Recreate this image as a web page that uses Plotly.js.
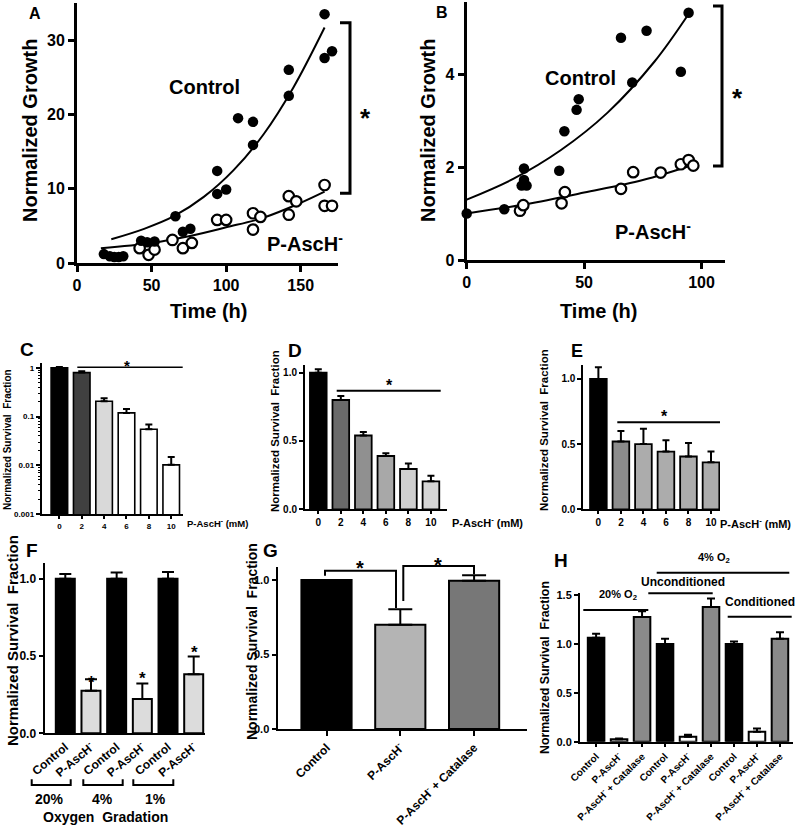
<!DOCTYPE html>
<html><head><meta charset="utf-8">
<script src="https://cdn.plot.ly/plotly-3.0.1.min.js"></script>
<style>html,body{margin:0;padding:0;background:#fff}#chart{width:800px;height:828px}</style>
</head><body><div id="chart"></div>
<script>
// ---------- Panel A ----------
const aCtrlX = [18,22,25,28,31,43,47,52,66,71,76,94,94,100,108,118,118,142,142,166,166,171];
const aCtrlY = [1.2,0.9,0.8,0.8,0.9,3.0,2.8,2.9,6.3,4.2,4.6,12.4,9.3,9.9,19.5,19.0,15.9,26.0,22.5,33.5,27.6,28.5];
const aAscX = [42,48,52,64,71,77,94,100,118,118,123,142,142,147,166,166,171];
const aAscY = [2.0,1.1,1.8,3.1,2.0,2.7,5.8,5.8,6.7,4.5,6.2,9.0,6.5,8.3,10.5,7.7,7.7];
const aCtrlFitX = [23,45,65,85,105,125,145,166];
const aCtrlFitY = [3.2,4.6,6.3,8.9,12.5,17.3,23.6,31.7];
const aAscFitX = [16,50,75,100,125,150,166];
const aAscFitY = [2.0,2.7,3.6,4.8,6.1,8.1,9.6];
// ---------- Panel B ----------
const bCtrlX = [0,16,23.4,24.4,24.4,25.5,39.4,41.6,46.8,47.7,65.7,70.5,76.6,91.2,94.5];
const bCtrlY = [1.0,1.09,1.6,1.72,1.97,1.6,1.92,2.77,3.23,3.46,4.78,3.82,4.93,4.05,5.32];
const bAscX = [22.7,24.1,40.4,41.8,65.7,70.9,82.6,91.2,94.5,96.5];
const bAscY = [1.06,1.18,1.22,1.46,1.53,1.89,1.88,2.06,2.15,2.03];
const bCtrlFitX = [0,20,40,60,80,95];
const bCtrlFitY = [1.30,1.75,2.36,3.17,4.27,5.33];
const bAscFitX = [0,25,50,75,96.5];
const bAscFitY = [1.0,1.2,1.45,1.72,2.05];
// ---------- Panel C ----------
const cLabels = ['0','2','4','6','8','10'];
const cVals = [1.0,0.80,0.206,0.119,0.055,0.0102];
const cErr = [0.04,0.05,0.031,0.024,0.014,0.0046];
// ---------- Panel D ----------
const dLabels = ['0','2','4','6','8','10'];
const dVals = [1.0,0.80,0.54,0.39,0.295,0.205];
const dErr = [0.025,0.03,0.025,0.02,0.04,0.04];
// ---------- Panel E ----------
const eLabels = ['0','2','4','6','8','10'];
const eVals = [1.0,0.52,0.50,0.443,0.405,0.36];
const eErr = [0.09,0.08,0.117,0.087,0.103,0.083];
// ---------- Panel F ----------
const fLabels = ['Control','P-AscH<sup>-</sup>','Control','P-AscH<sup>-</sup>','Control','P-AscH<sup>-</sup>'];
const fVals = [1.0,0.275,1.0,0.222,1.0,0.382];
const fErr = [0.03,0.075,0.04,0.1,0.043,0.115];
const fGroups = ['20%','4%','1%'];
// ---------- Panel G ----------
const gLabels = ['Control','P-AscH<sup>-</sup>','P-AscH<sup>-</sup> + Catalase'];
const gVals = [1.0,0.70,0.995];
const gErr = [0,0.105,0.038];
// ---------- Panel H ----------
const hLabels = ['Control','P-AscH<sup>-</sup>','P-AscH<sup>-</sup> + Catalase','Control','P-AscH<sup>-</sup>','P-AscH<sup>-</sup> + Catalase','Control','P-AscH<sup>-</sup>','P-AscH<sup>-</sup> + Catalase'];
const hVals = [1.065,0.024,1.277,1.0,0.051,1.38,1.0,0.103,1.055];
const hErr = [0.041,0.01,0.059,0.055,0.021,0.086,0.027,0.031,0.065];

// ---------- styles ----------
const FONT = 'Liberation Sans, Arial, sans-serif';
const cCols = ['#000','#404040','#d9d9d9','#fff','#fff','#fff'];
const dCols = ['#000','#6a6a6a','#909090','#a8a8a8','#cfcfcf','#d6d6d6'];
const eCols = ['#000','#8c8c8c','#acacac','#acacac','#acacac','#acacac'];
const fCols = ['#000','#dcdcdc','#000','#dcdcdc','#000','#dcdcdc'];
const gCols = ['#000','#b4b4b4','#777777'];
const hCols = ['#000','#fff','#8a8a8a','#000','#fff','#8a8a8a','#000','#fff','#8a8a8a'];

const px = x => x / 800;
const py = y => 1 - y / 828;
const idx = arr => arr.map((_, i) => i);

function scat(x, y, xa, ya, filled) {
  return {type:'scatter', mode:'markers', x:x, y:y, xaxis:xa, yaxis:ya, cliponaxis:false,
    marker:{size:10.5, color: filled ? '#000' : '#fff', line:{color:'#000', width: filled ? 0 : 2.2}}};
}
function fit(x, y, xa, ya) {
  return {type:'scatter', mode:'lines', x:x, y:y, xaxis:xa, yaxis:ya, line:{color:'#000', width:2, shape:'spline'}};
}
function bars(labels, vals, err, cols, xa, ya, w, lw, cap) {
  return {type:'bar', x:idx(labels), y:vals, xaxis:xa, yaxis:ya, width:w,
    marker:{color:cols, line:{color:'#000', width:lw}},
    error_y:{type:'data', symmetric:false, array:err, arrayminus:err.map(()=>0), color:'#000', thickness:2, width:cap}};
}

const traces = [
  fit(aCtrlFitX, aCtrlFitY, 'x', 'y'), fit(aAscFitX, aAscFitY, 'x', 'y'),
  scat(aAscX, aAscY, 'x', 'y', false), scat(aCtrlX, aCtrlY, 'x', 'y', true),
  fit(bCtrlFitX, bCtrlFitY, 'x2', 'y2'), fit(bAscFitX, bAscFitY, 'x2', 'y2'),
  scat(bAscX, bAscY, 'x2', 'y2', false), scat(bCtrlX, bCtrlY, 'x2', 'y2', true),
  bars(cLabels, cVals, cErr, cCols, 'x3', 'y3', 0.74, 1.6, 3.5),
  bars(dLabels, dVals, dErr, dCols, 'x4', 'y4', 0.74, 1.8, 3.5),
  bars(eLabels, eVals, eErr, eCols, 'x5', 'y5', 0.74, 1.8, 3.5),
  bars(fLabels, fVals, fErr, fCols, 'x6', 'y6', 0.74, 2, 6),
  bars(gLabels, gVals, gErr, gCols, 'x7', 'y7', 0.68, 2, 12),
  bars(hLabels, hVals, hErr, hCols, 'x8', 'y8', 0.72, 2, 4)
];

function axis(domain, range, anchor, opts) {
  return Object.assign({domain:domain, range:range, anchor:anchor, showline:true, linecolor:'#000', linewidth:2,
    ticks:'outside', ticklen:4, tickwidth:2, tickcolor:'#000', showgrid:false, zeroline:false, fixedrange:true,
    tickfont:{family:FONT, size:10, color:'#000', weight:'bold'}}, opts || {});
}
const bigTick = {family:FONT, size:16, color:'#000', weight:'bold'};

const layout = {
  width:800, height:828, margin:{l:0,r:0,t:0,b:0}, showlegend:false,
  paper_bgcolor:'#fff', plot_bgcolor:'rgba(0,0,0,0)', bargap:0.26,
  font:{family:FONT, color:'#000'},
  xaxis: axis([px(77),px(338)],[0,175],'y',{tickvals:[0,50,100,150], linewidth:3, tickwidth:3, ticklen:6, tickfont:bigTick}),
  yaxis: axis([py(263),py(3)],[0,35],'x',{tickvals:[0,10,20,30], linewidth:3, tickwidth:3, ticklen:6, tickfont:bigTick}),
  xaxis2: axis([px(466.7),px(725)],[0,110],'y2',{tickvals:[0,50,100], linewidth:3, tickwidth:3, ticklen:6, tickfont:bigTick}),
  yaxis2: axis([py(260),py(2)],[0,5.55],'x2',{tickvals:[0,2,4], linewidth:3, tickwidth:3, ticklen:6, tickfont:bigTick}),
  xaxis3: axis([px(41.7),px(183.3)],[-0.79,5.54],'y3',{tickvals:idx(cLabels), ticktext:cLabels, ticklen:3, tickfont:{family:FONT,size:8,color:'#000',weight:'bold'}}),
  yaxis3: axis([py(514),py(363)],[-3,0.1],'x3',{type:'log', tickvals:[0.001,0.01,0.1,1], ticktext:['0.001','0.01','0.1','1'], ticklen:4,
    tickfont:{family:FONT,size:8,color:'#000',weight:'bold'}, minor:{ticks:'outside', ticklen:2, tickwidth:1, tickcolor:'#000', dtick:'D1'}}),
  xaxis4: axis([px(305),px(446.7)],[-0.59,5.7],'y4',{tickvals:idx(dLabels), ticktext:dLabels, ticklen:3}),
  yaxis4: axis([py(509.3),py(365)],[0,1.056],'x4',{tickvals:[0,0.5,1], ticktext:['0.0','0.5','1.0']}),
  xaxis5: axis([px(583.3),px(720)],[-0.67,5.4],'y5',{tickvals:idx(eLabels), ticktext:eLabels, ticklen:3}),
  yaxis5: axis([py(509.3),py(365)],[0,1.107],'x5',{tickvals:[0,0.5,1], ticktext:['0.0','0.5','1.0']}),
  xaxis6: axis([px(44.5),px(205)],[-0.81,5.44],'y6',{tickvals:idx(fLabels), ticktext:fLabels, tickangle:-40, ticklen:0,
    tickfont:{family:FONT,size:12,color:'#000',weight:'bold'}}),
  yaxis6: axis([py(733.3),py(563.3)],[0,1.10],'x6',{tickvals:[0,0.5,1], ticktext:['0.0','0.5','1.0'], tickfont:{family:FONT,size:12,color:'#000',weight:'bold'}}),
  xaxis7: axis([px(277.5),px(526.7)],[-0.664,2.713],'y7',{tickvals:idx(gLabels), ticktext:gLabels, tickangle:-45, ticklen:5,
    tickfont:{family:FONT,size:12,color:'#000',weight:'bold'}}),
  yaxis7: axis([py(729),py(566.7)],[0,1.09],'x7',{tickvals:[0,0.5,1], ticktext:['0.0','0.5','1.0'], tickfont:{family:FONT,size:11,color:'#000',weight:'bold'}}),
  xaxis8: axis([px(580),px(793.3)],[-0.7,8.58],'y8',{tickvals:idx(hLabels), ticktext:hLabels, tickangle:-45, ticklen:3,
    tickfont:{family:FONT,size:10,color:'#000',weight:'bold'}}),
  yaxis8: axis([py(741.7),py(593.3)],[0,1.52],'x8',{tickvals:[0,0.5,1,1.5], ticktext:['0.0','0.5','1.0','1.5'], tickfont:{family:FONT,size:11,color:'#000',weight:'bold'}}),
  shapes:[], annotations:[]
};

function pathShape(pts, w) {
  const d = pts.map((p, i) => (i ? 'L' : 'M') + px(p[0]) + ',' + py(p[1])).join(' ');
  layout.shapes.push({type:'path', xref:'paper', yref:'paper', path:d, line:{color:'#000', width:w}});
}
function txt(x, y, text, size, opts) {
  layout.annotations.push(Object.assign({xref:'paper', yref:'paper', x:px(x), y:py(y), text:text, showarrow:false,
    font:{family:FONT, size:size, color:'#000', weight:'bold'}, xanchor:'center', yanchor:'middle'}, opts || {}));
}
function star(x, y, size) { txt(x, y + 0.23 * size, '*', size); }
function vtitle(x, y, text, size) { txt(x, y, text, size, {textangle:-90}); }

// brackets & lines
pathShape([[340,22.7],[350,22.7],[350,193.3],[340,193.3]], 3);
pathShape([[713,6],[722,6],[722,166],[713,166]], 3);
pathShape([[77.3,367.3],[182.7,367.3]], 1.5);
pathShape([[336.7,390.7],[440.7,390.7]], 2);
pathShape([[617.3,422.3],[720,422.3]], 2);
pathShape([[31.7,779.3],[31.7,785],[70.7,785],[70.7,779.3]], 2);
pathShape([[83.3,779.3],[83.3,785],[122.7,785],[122.7,779.3]], 2);
pathShape([[133.3,779.3],[133.3,785],[173.3,785],[173.3,779.3]], 2);
pathShape([[325,575.7],[325,570.7],[396,570.7],[396,608]], 2);
pathShape([[403.3,601],[403.3,566],[474,566],[474,574.3]], 2);
pathShape([[583.3,610],[648.3,610]], 2);
pathShape([[648.3,593.3],[712.7,593.3]], 2);
pathShape([[727.7,616.7],[791.7,616.7]], 2);
pathShape([[656.7,572.7],[789.3,572.7]], 2);

// stars
star(365,112,26); star(737,92,26);
star(126.7,362,15); star(389,382,16); star(664,413,16);
star(91,679,17); star(142.3,675,17); star(194,649,17);
star(360,563,20); star(438,560,20);

// panel letters
txt(35,14,'A',16); txt(442,13,'B',16);
txt(27,349,'C',19); txt(295,350,'D',19); txt(577,351,'E',18);
txt(32,550,'F',19); txt(270,550,'G',19); txt(561,560,'H',19);

// axis titles and labels
vtitle(30,131,'Normalized Growth',20); vtitle(428,131,'Normalized Growth',20);
txt(208,311,'Time (h)',20); txt(598,311,'Time (h)',20);
txt(205,87,'Control',20); txt(305,243,'P-AscH<sup>-</sup>',20);
txt(580,78,'Control',20); txt(653,230,'P-AscH<sup>-</sup>',20);
const sv = 'Normalized Survival\u00a0 Fraction';
vtitle(7,440,sv,10); vtitle(275,431,sv,11.5); vtitle(544,430,sv,11.5);
vtitle(12,641,sv,15); vtitle(252,642,sv,14); vtitle(545,668,sv,12.3);
txt(185,523,'P-AscH<sup>-</sup> (mM)',9.5,{xanchor:'left'});
txt(450,522,'P-AscH<sup>-</sup> (mM)',11,{xanchor:'left'});
txt(718,523,'P-AscH<sup>-</sup> (mM)',11,{xanchor:'left'});
txt(49,799,fGroups[0],14); txt(102,799,fGroups[1],14); txt(155,799,fGroups[2],14);
txt(105,817,'Oxygen\u00a0 Gradation',14);
txt(618,595,'20% O<sub>2</sub>',11); txt(682.5,581.7,'Unconditioned',12);
txt(760,601.7,'Conditioned',12); txt(714,558,'4% O<sub>2</sub>',11);

Plotly.newPlot('chart', traces, layout, {staticPlot:true});
</script>
</body></html>
